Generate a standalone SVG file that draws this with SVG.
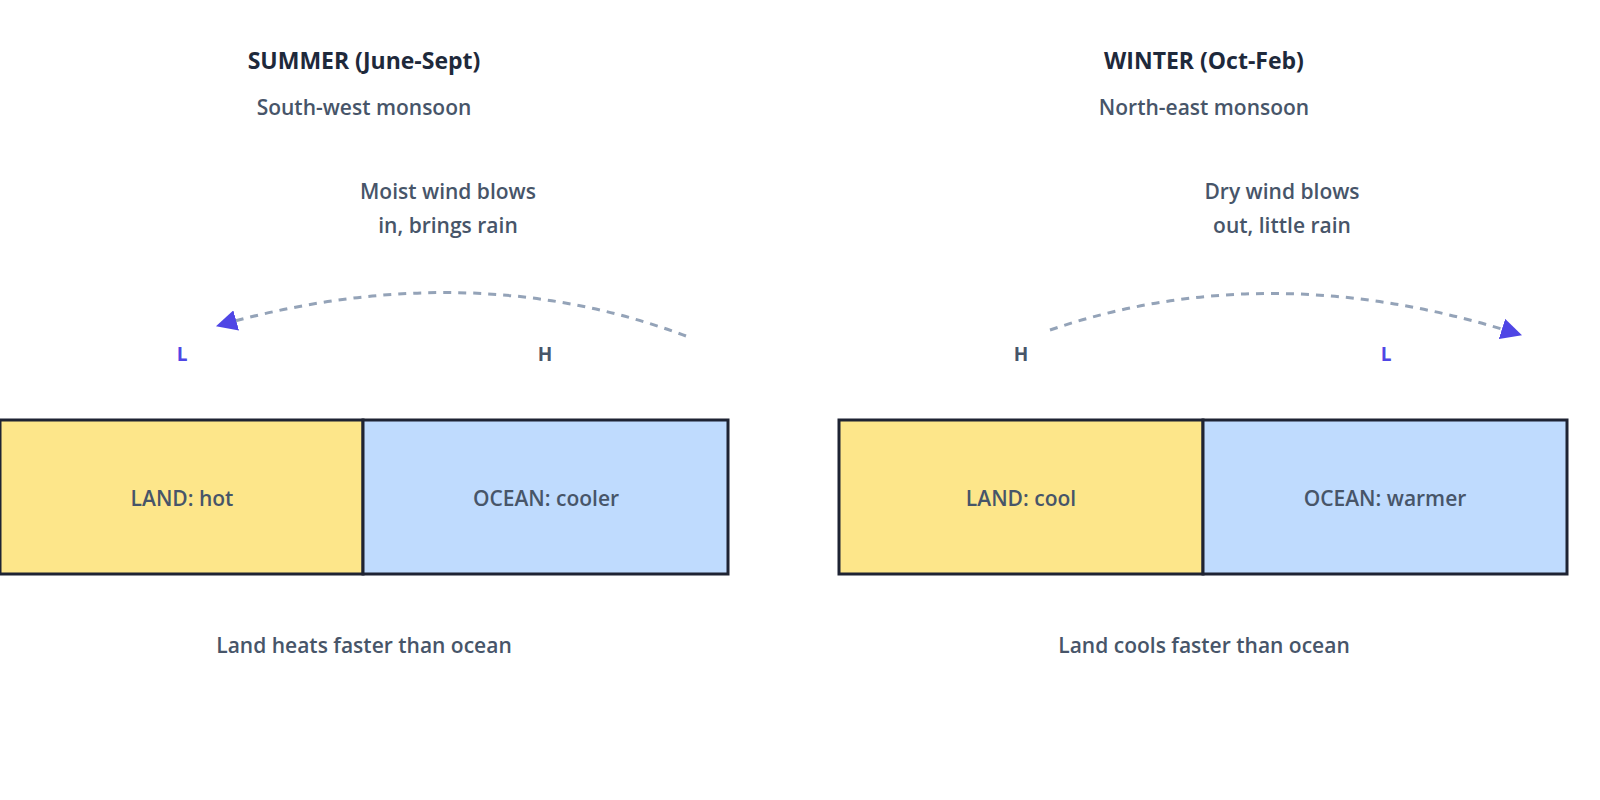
<svg xmlns="http://www.w3.org/2000/svg" width="1600" height="800" viewBox="0 0 1600 800">
<style>
text{font-family:"Open Sans","Liberation Sans",sans-serif;font-weight:600;text-anchor:middle;dominant-baseline:middle}
.t{font-size:23px;font-weight:700;fill:#1e293b}
.s{font-size:21px;fill:#475569}
.lbl{font-size:21px;fill:#475569}
.L{font-size:19px;font-weight:700;fill:#4f46e5}
.H{font-size:19px;font-weight:700;fill:#475569}
.land{fill:#fde68a;stroke:#1e2333;stroke-width:3}
.ocean{fill:#bfdbfe;stroke:#1e2333;stroke-width:3}
.wind{fill:none;stroke:#94a3b8;stroke-width:3;stroke-dasharray:8 7}
</style>
<defs><marker id="ah" viewBox="0 0 10 10" refX="8" refY="5" markerWidth="7" markerHeight="7" markerUnits="strokeWidth" orient="auto"><path d="M0,0L10,5L0,10z" fill="#4f46e5"/></marker></defs>
<rect width="1600" height="800" fill="#fff"/>
<g id="summer-title"><text class="t" x="364" y="63">SUMMER (June-Sept)</text><text class="s" x="364" y="109">South-west monsoon</text></g>
<g id="winter-title"><text class="t" x="1204" y="63">WINTER (Oct-Feb)</text><text class="s" x="1204" y="109">North-east monsoon</text></g>
<g id="summer-wind-label"><text class="s" x="448" y="193">Moist wind blows</text><text class="s" x="448" y="227">in, brings rain</text></g>
<g id="winter-wind-label"><text class="s" x="1282" y="193">Dry wind blows</text><text class="s" x="1282" y="227">out, little rain</text></g>
<g id="summer-L"><text class="L" x="182" y="356">L</text></g>
<g id="summer-H"><text class="H" x="545" y="356">H</text></g>
<g id="winter-H"><text class="H" x="1021" y="356">H</text></g>
<g id="winter-L"><text class="L" x="1386" y="356">L</text></g>
<g id="summer-land"><rect class="land" x="0" y="420" width="363" height="154"/><text class="lbl" x="182" y="500">LAND: hot</text></g>
<g id="summer-ocean"><rect class="ocean" x="363" y="420" width="365" height="154"/><text class="lbl" x="546" y="500">OCEAN: cooler</text></g>
<g id="winter-land"><rect class="land" x="839" y="420" width="364" height="154"/><text class="lbl" x="1021" y="500">LAND: cool</text></g>
<g id="winter-ocean"><rect class="ocean" x="1203" y="420" width="364" height="154"/><text class="lbl" x="1385" y="500">OCEAN: warmer</text></g>
<g id="summer-note"><text class="s" x="364" y="647">Land heats faster than ocean</text></g>
<g id="winter-note"><text class="s" x="1204" y="647">Land cools faster than ocean</text></g>
<g id="connectors">
<path class="wind" d="M686,336 Q470,255 220,325" marker-end="url(#ah)"/>
<path class="wind" d="M1050,330 Q1270,255 1518,334" marker-end="url(#ah)"/>
</g>
</svg>
